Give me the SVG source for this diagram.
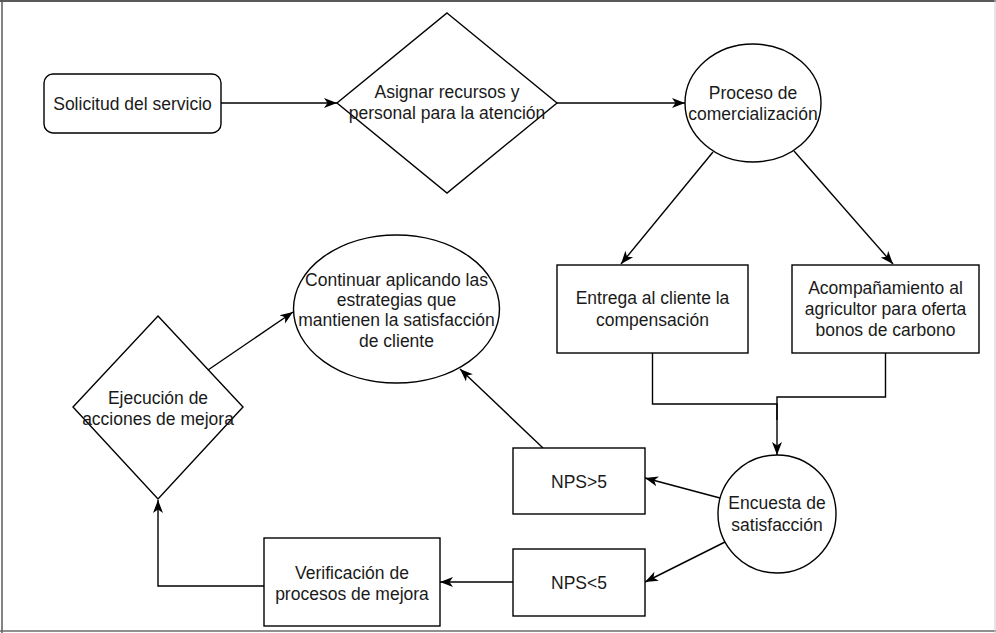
<svg xmlns="http://www.w3.org/2000/svg" width="996" height="633" viewBox="0 0 996 633">
<defs>
<style>
.shape{fill:#ffffff;stroke:#000000;stroke-width:1.4}
.edge{fill:none;stroke:#000000;stroke-width:1.4}
.arr{marker-end:url(#ah)}
text{font-family:"Liberation Sans",Arial,sans-serif;font-size:17.5px;fill:#1a1a1a;text-anchor:middle}
</style>
<marker id="ah" markerUnits="userSpaceOnUse" markerWidth="14" markerHeight="12" viewBox="0 0 14 12" refX="13" refY="6" orient="auto">
<path d="M0,1 L13,6 L0,11 L3.5,6 Z" fill="#000000"/>
</marker>
</defs>
<rect x="0" y="0" width="996" height="633" fill="#ffffff"/>
<g id="frame">
<line x1="0" y1="1" x2="996" y2="1" stroke="#5a5a5a" stroke-width="2"/>
<line x1="2" y1="0" x2="2" y2="633" stroke="#5a5a5a" stroke-width="1.5"/>
<line x1="0" y1="631" x2="996" y2="631" stroke="#6a6a6a" stroke-width="1.5"/>
<line x1="995" y1="0" x2="995" y2="633" stroke="#cccccc" stroke-width="1"/>
</g>
<g id="connectors">
<line class="edge arr" x1="221" y1="103" x2="337" y2="103"/>
<line class="edge arr" x1="557" y1="103" x2="685" y2="103"/>
<line class="edge arr" x1="713" y1="152" x2="621" y2="264"/>
<line class="edge arr" x1="794" y1="151" x2="893" y2="264"/>
<path class="edge arr" d="M652.5,353 V404 H777 V455"/>
<path class="edge" d="M885.5,353 V397 H777 V420"/>
<line class="edge arr" x1="720" y1="498" x2="645" y2="478"/>
<line class="edge arr" x1="725" y1="542" x2="645" y2="582"/>
<line class="edge arr" x1="543" y1="448" x2="460" y2="369"/>
<line class="edge arr" x1="513" y1="582" x2="440" y2="582"/>
<path class="edge arr" d="M264,586 H158 V500"/>
<line class="edge arr" x1="208" y1="370" x2="293" y2="312"/>
</g>
<g id="n-solicitud">
<rect class="shape" x="44" y="74" width="177" height="59" rx="9" ry="9"/>
<text x="132.5" y="109.5">Solicitud del servicio</text>
</g>
<g id="n-asignar">
<polygon class="shape" points="447,13 557,103 447,193 337,103"/>
<text x="447" y="97.5">Asignar recursos y</text>
<text x="447" y="118.5">personal para la atención</text>
</g>
<g id="n-proceso">
<ellipse class="shape" cx="753" cy="103" rx="68" ry="59"/>
<text x="753" y="99">Proceso de</text>
<text x="753" y="120">comercialización</text>
</g>
<g id="n-entrega">
<rect class="shape" x="557" y="265" width="191" height="88"/>
<text x="652.5" y="304">Entrega al cliente la</text>
<text x="652.5" y="325.5">compensación</text>
</g>
<g id="n-acompanamiento">
<rect class="shape" x="792" y="265" width="187" height="88"/>
<text x="885.5" y="294">Acompañamiento al</text>
<text x="885.5" y="315">agricultor para oferta</text>
<text x="885.5" y="336">bonos de carbono</text>
</g>
<g id="n-encuesta">
<circle class="shape" cx="777" cy="514" r="59"/>
<text x="777" y="509">Encuesta de</text>
<text x="777" y="530.5">satisfacción</text>
</g>
<g id="n-nps-mayor">
<rect class="shape" x="513" y="448" width="132" height="66"/>
<text x="579" y="487.5">NPS&gt;5</text>
</g>
<g id="n-nps-menor">
<rect class="shape" x="513" y="549" width="132" height="67"/>
<text x="579" y="588.5">NPS&lt;5</text>
</g>
<g id="n-verificacion">
<rect class="shape" x="264" y="538" width="176" height="88"/>
<text x="352" y="578.5">Verificación de</text>
<text x="352" y="600">procesos de mejora</text>
</g>
<g id="n-ejecucion">
<polygon class="shape" points="158,316 243,407 158,499 73,407"/>
<text x="158" y="403.5">Ejecución de</text>
<text x="158" y="424.5">acciones de mejora</text>
</g>
<g id="n-continuar">
<ellipse class="shape" cx="396.5" cy="309" rx="103" ry="74"/>
<text x="396.5" y="285.5">Continuar aplicando las</text>
<text x="396.5" y="305.5">estrategias que</text>
<text x="396.5" y="326">mantienen la satisfacción</text>
<text x="396.5" y="346.5">de cliente</text>
</g>
</svg>
